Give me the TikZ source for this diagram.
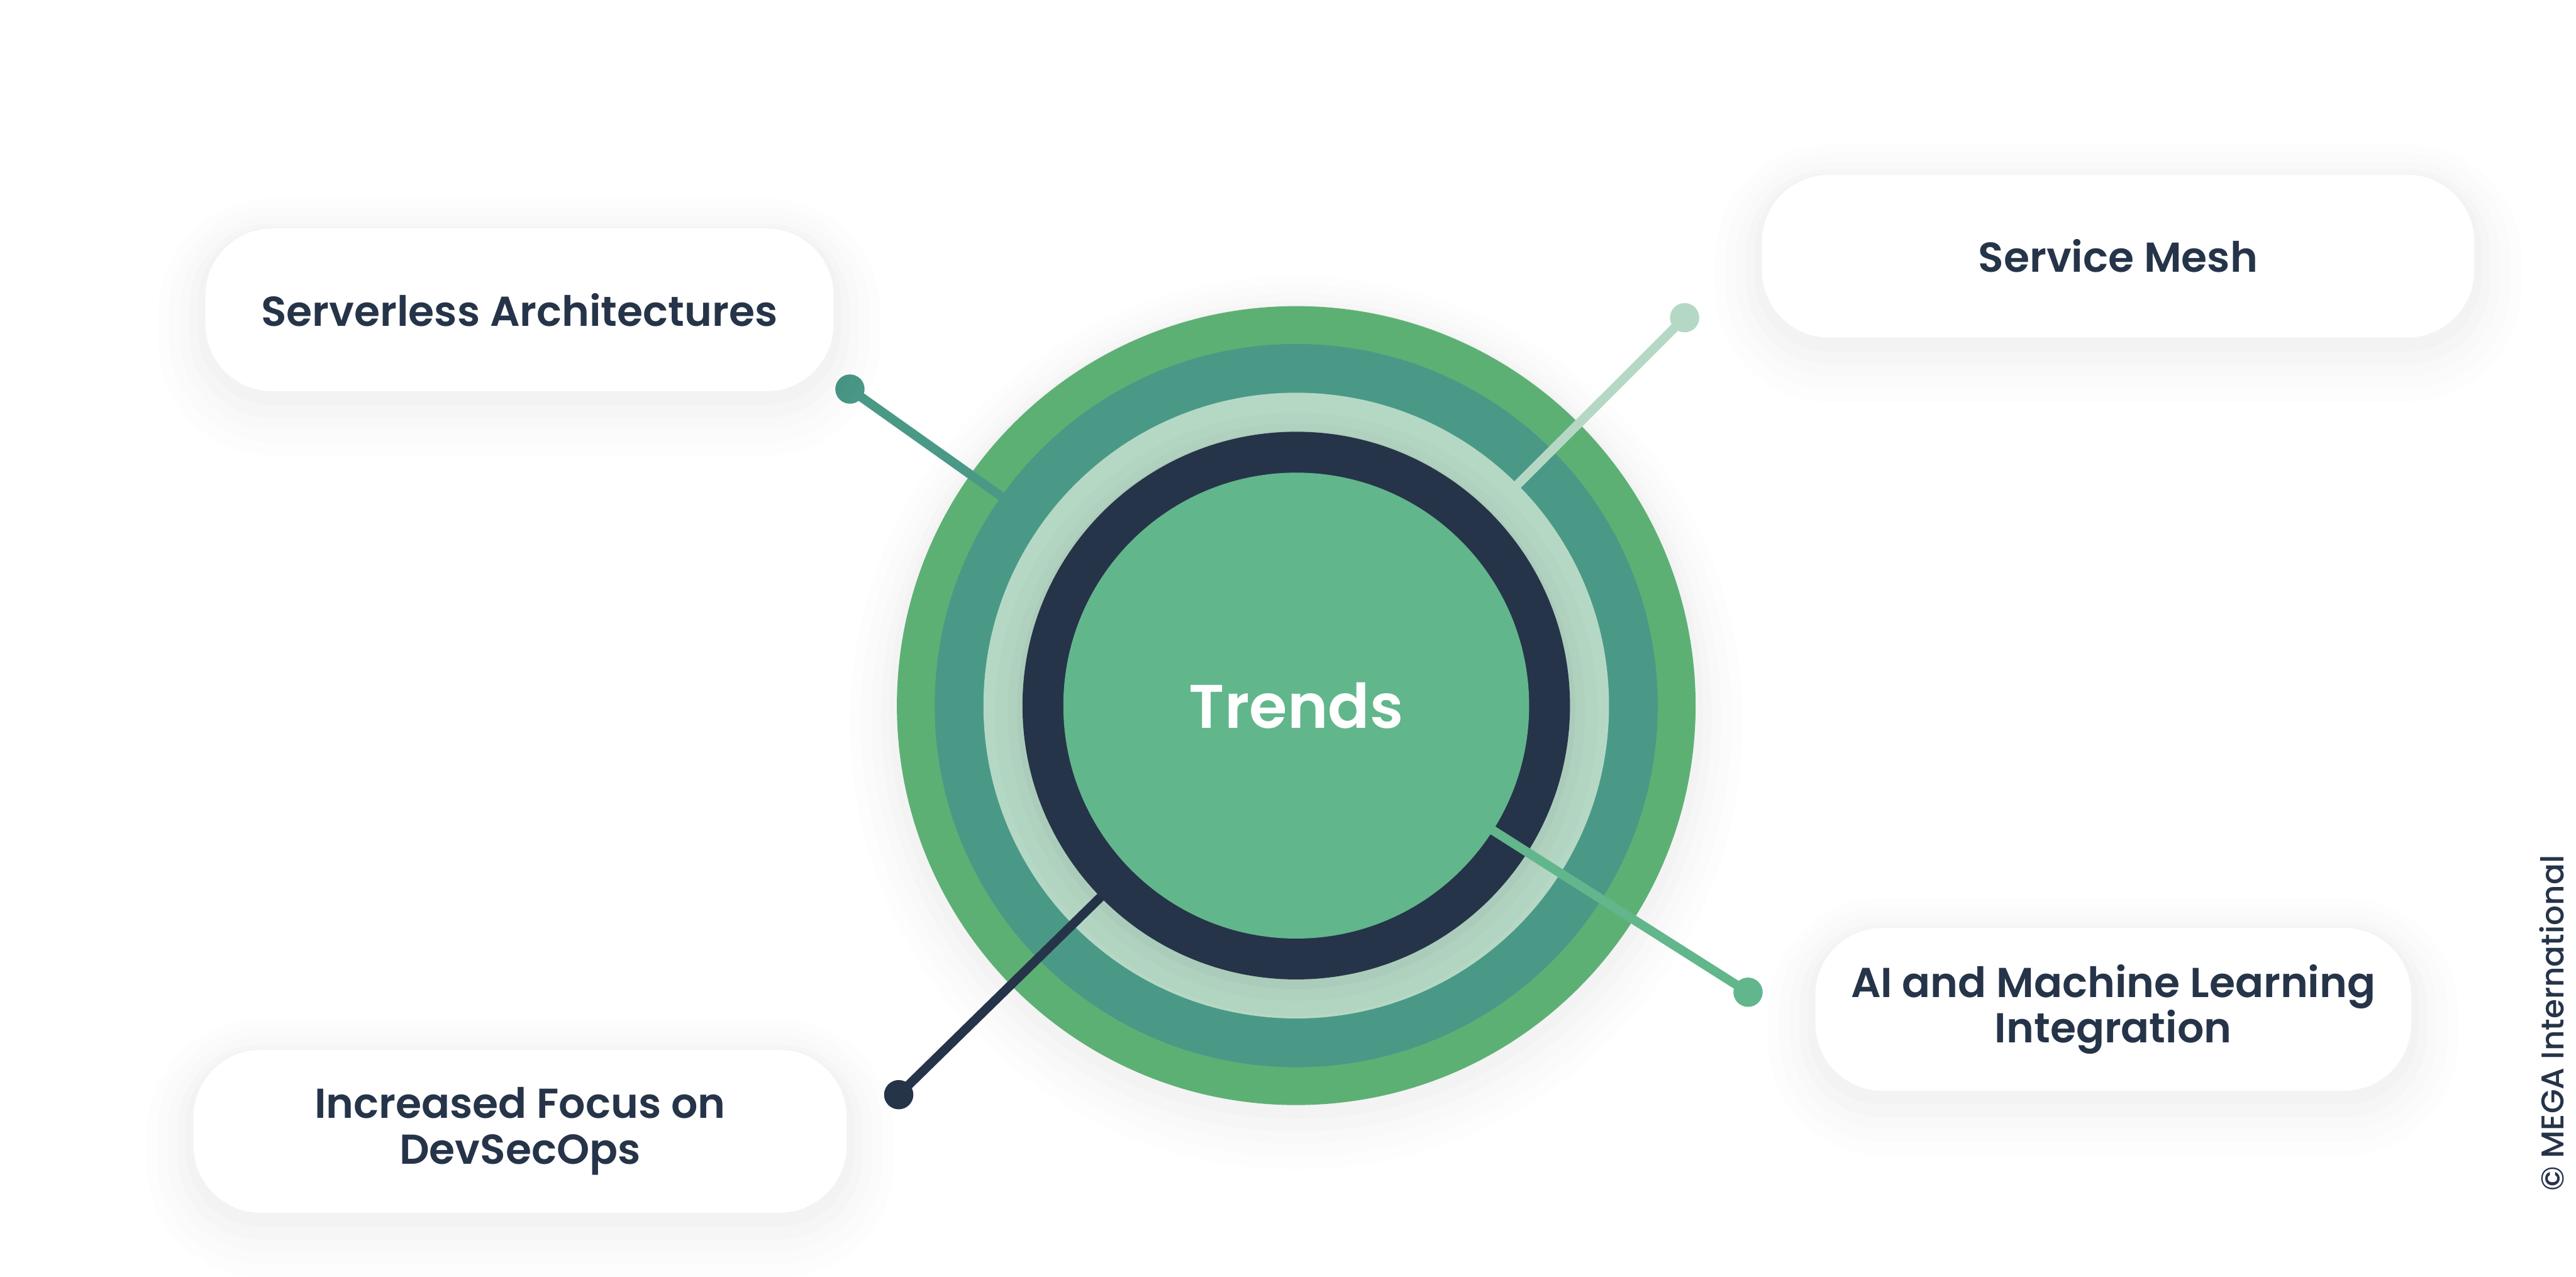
\documentclass[tikz,border=0pt]{standalone}
\usepackage{fontspec}
\setmainfont{Poppins}[BoldFont={Poppins SemiBold}]
\newfontfamily\medfont{Poppins Medium}
\usetikzlibrary{shadows}

\definecolor{ringgreen}{HTML}{5DB074}
\definecolor{ringteal}{HTML}{4A9987}
\definecolor{ringlight}{HTML}{B5D8C5}
\definecolor{navy}{HTML}{263449}
\definecolor{coregreen}{HTML}{62B68C}

\tikzset{
  softshadow/.style={
    preaction={draw=black, draw opacity=.007, line width=44pt, transform canvas={yshift=-8pt}},
    preaction={draw=black, draw opacity=.008, line width=34pt, transform canvas={yshift=-7pt}},
    preaction={draw=black, draw opacity=.009, line width=24pt, transform canvas={yshift=-6pt}},
    preaction={draw=black, draw opacity=.010, line width=15pt, transform canvas={yshift=-5pt}},
    preaction={draw=black, draw opacity=.012, line width=7pt, transform canvas={yshift=-3pt}}},
  innershade/.style={
    preaction={draw=black, draw opacity=.012, line width=26pt, transform canvas={yshift=-4pt}},
    preaction={draw=black, draw opacity=.015, line width=14pt, transform canvas={yshift=-3pt}},
    preaction={draw=black, draw opacity=.02, line width=5pt, transform canvas={yshift=-2pt}}},
  pill/.style={fill=white, rounded corners=1.1cm, minimum height=2.67cm, align=center,
    text=navy, font=\bfseries\fontsize{19.5}{21.3}\selectfont, softshadow},
  spoke/.style={line width=0.15cm},
}

\begin{document}
\begin{tikzpicture}

    \useasboundingbox (0,0) rectangle (42.25,20.93);

    % 1. Tâm và các điểm đầu mút
    \coordinate (O) at (21.26,9.36);
    \coordinate (dS) at (13.94,14.55);  % Serverless
    \coordinate (dM) at (27.63,15.72);  % Service Mesh
    \coordinate (dA) at (28.67,4.66);   % AI
    \coordinate (dD) at (14.74,2.98);   % DevSecOps

    % 2. Vòng ngoài cùng (xanh lá) có bóng mờ
    \fill[ringgreen, softshadow] (O) circle (6.55);

    % 3. Các nhánh xen kẽ với các vòng
    \draw[spoke, ringteal] (dS) -- (O);
    \fill[ringteal] (dS) circle (0.24);
    \fill[ringteal] (O) circle (5.93);

    \draw[spoke, ringlight] (dM) -- (O);
    \fill[ringlight] (dM) circle (0.24);
    \fill[ringlight] (O) circle (5.13);

    \draw[spoke, navy] (dD) -- (O);
    \fill[navy] (dD) circle (0.24);
    \fill[navy, innershade] (O) circle (4.49);
    \fill[coregreen] (O) circle (3.82);

    \draw[spoke, coregreen] (dA) -- (O);
    \fill[coregreen] (dA) circle (0.24);

    % 4. Nhãn ở giữa
    \node[text=white, font=\bfseries\fontsize{28.7}{34}\selectfont] (T) at (O) {Trends};

    % 5. Các hộp chữ
    \node[pill, minimum width=10.30cm] (serverless) at (8.52,15.85) {Serverless Architectures};
    \node[pill, minimum width=11.68cm] (mesh) at (34.74,16.73) {Service Mesh};
    \node[pill, minimum width=9.77cm] (ai) at (34.66,4.38) {AI and Machine Learning\\Integration};
    \node[pill, minimum width=10.71cm] (devsecops) at (8.53,2.38) {Increased Focus on\\DevSecOps};

    % 6. Bản quyền
    \node[rotate=90, text=navy, font=\medfont\fontsize{14.7}{17}\selectfont] (copy) at (41.85,4.15) {© MEGA International};

\end{tikzpicture}
\end{document}
